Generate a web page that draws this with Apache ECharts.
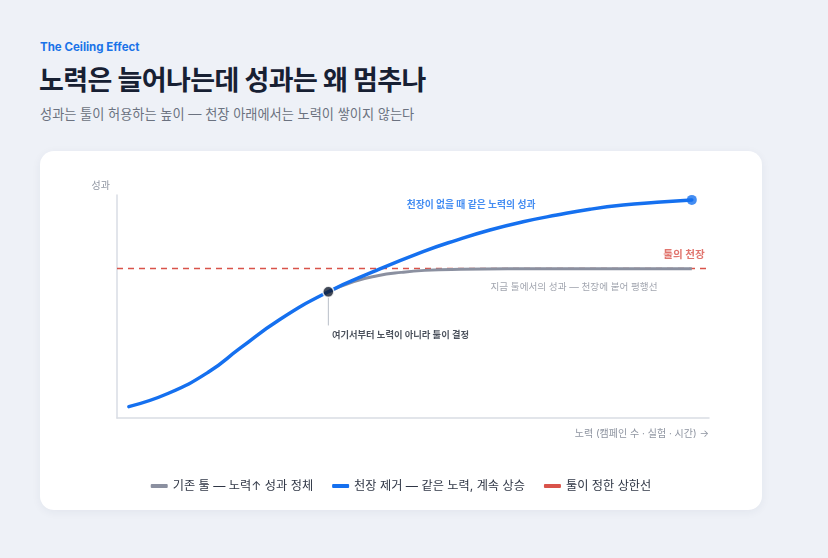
<!DOCTYPE html>
<html>
<head>
<meta charset="utf-8">
<script src="https://cdn.jsdelivr.net/npm/echarts@6/dist/echarts.min.js"></script>
<style>
  html, body { margin: 0; padding: 0; }
  body {
    width: 828px; height: 558px; overflow: hidden; position: relative;
    background: #eef1f7;
    font-family: Inter, "Noto Sans CJK KR", "Noto Sans", sans-serif;
  }
  .kicker { position: absolute; left: 40px; top: 40px; font-size: 11.5px; font-weight: 700; color: #1a73e8; }
  .title { position: absolute; left: 39px; top: 59px; font-size: 27px; font-weight: 700; color: #172033; letter-spacing: -0.6px; }
  .sub { position: absolute; left: 40px; top: 104px; font-size: 13.2px; color: #6b7280; }
  .card {
    position: absolute; left: 40px; top: 151px; width: 722px; height: 359px;
    background: #fff; border-radius: 14px;
    box-shadow: 0 2px 10px rgba(30, 45, 80, 0.06);
  }
  #chart { width: 722px; height: 359px; }
</style>
</head>
<body>
<div class="kicker">The Ceiling Effect</div>
<div class="title">노력은 늘어나는데 성과는 왜 멈추나</div>
<div class="sub">성과는 툴이 허용하는 높이 — 천장 아래에서는 노력이 쌓이지 않는다</div>
<div class="card"><div id="chart"></div></div>
<script>
// 노력(x) / 성과(y) — 0~100 스케일
var effortBlue = [2, 8.7, 15.4, 20.8, 27.5, 35.7, 43.3, 51.7, 57.4, 63, 68.6, 74.3, 79.9, 85.5, 91.2, 97.1];
var resultBlue = [5.1, 11.1, 20.5, 31.3, 44.2, 56.6, 65.6, 74.6, 79.8, 84.3, 88, 91, 93.6, 95.5, 96.7, 97.8];

var effortGrey = [35.7, 40, 44, 48, 52, 58, 66, 80, 97.1];
var resultGrey = [56.6, 61.2, 63.8, 65.3, 66.2, 66.7, 66.9, 66.9, 66.9];

var ceiling = 67;
var kneePoint = [35.7, 56.6];
var kneeStemEnd = 41.5;

var seriesNames = ['기존 툴 — 노력↑ 성과 정체', '천장 제거 — 같은 노력, 계속 상승', '툴이 정한 상한선'];
var notes = {
  blue: { at: [59.8, 95.4], text: '천장이 없을 때 같은 노력의 성과' },
  grey: { at: [91.3, 58.6], text: '지금 툴에서의 성과 — 천장에 붙어 평행선' },
  ceil: { at: [99.3, 73], text: '툴의 천장' },
  knee: { at: [36.3, 37.3], text: '여기서부터 노력이 아니라 툴이 결정' }
};

var BLUE = '#1570ef', GREY = '#8b90a0', RED = '#d9534a';

function zip(xs, ys) {
  return xs.map(function(x, i) { return [x, ys[i]]; });
}

// 투명한 점에 글자만 붙이는 주석 시리즈
function noteSeries(n, color, weight, size, align) {
  return {
    type: 'scatter', z: 6, silent: true,
    data: [n.at], symbolSize: 1,
    itemStyle: { color: 'rgba(0,0,0,0)' },
    label: {
      show: true, position: 'inside', formatter: n.text,
      color: color, fontWeight: weight, fontSize: size, align: align,
      fontFamily: 'Inter, "Noto Sans CJK KR"'
    }
  };
}

var chart = echarts.init(document.getElementById('chart'));

chart.setOption({
  animation: false,
  textStyle: { fontFamily: 'Inter, "Noto Sans CJK KR"' },
  grid: { left: 77, right: 53, top: 44, bottom: 92 },
  legend: {
    data: seriesNames,
    top: 324, left: 'center',
    icon: 'roundRect', itemWidth: 17, itemHeight: 4, itemGap: 19,
    textStyle: { fontSize: 12.2, color: '#2f3645' }
  },
  xAxis: {
    type: 'value', min: 0, max: 100,
    name: '노력 (캠페인 수 · 실험 · 시간) →',
    nameLocation: 'end', nameGap: 0,
    nameTextStyle: { align: 'right', verticalAlign: 'top', padding: [11, 0, 0, 0], fontSize: 10, color: '#8f95a1' },
    axisLine: { lineStyle: { color: '#d9dde4', width: 1.5 } },
    axisTick: { show: false }, axisLabel: { show: false }, splitLine: { show: false }
  },
  yAxis: {
    type: 'value', min: 0, max: 100,
    name: '성과', nameLocation: 'end', nameGap: 4,
    nameTextStyle: { align: 'right', padding: [0, 7, 0, 0], fontSize: 10, color: '#8f95a1' },
    axisLine: { show: true, lineStyle: { color: '#d9dde4', width: 1.5 } },
    axisTick: { show: false }, axisLabel: { show: false }, splitLine: { show: false }
  },
  series: [
    {
      name: seriesNames[2], type: 'line', z: 1,
      data: [[0, ceiling], [100, ceiling]],
      symbol: 'none', itemStyle: { color: RED },
      lineStyle: { color: RED, width: 1.5, type: [6, 5] }
    },
    {
      name: seriesNames[0], type: 'line', z: 2,
      data: zip(effortGrey, resultGrey),
      smooth: 0.5, symbol: 'none', itemStyle: { color: GREY },
      lineStyle: { color: GREY, width: 3 }
    },
    {
      name: seriesNames[1], type: 'line', z: 3,
      data: zip(effortBlue, resultBlue),
      smooth: 0.5, symbol: 'none', itemStyle: { color: BLUE },
      lineStyle: { color: BLUE, width: 3.5, cap: 'round' }
    },
    {
      type: 'line', z: 2, silent: true,
      data: [[kneePoint[0], kneePoint[1] - 2], [kneePoint[0], kneeStemEnd]],
      symbol: 'none', lineStyle: { color: '#b9bec8', width: 1 }
    },
    {
      type: 'scatter', z: 5, silent: true,
      data: [kneePoint],
      symbolSize: 11,
      itemStyle: { color: '#111a2c', borderColor: '#fff', borderWidth: 1.5 }
    },
    {
      type: 'scatter', z: 5, silent: true,
      data: [[effortBlue[effortBlue.length - 1], resultBlue[resultBlue.length - 1]]],
      symbolSize: 10,
      itemStyle: { color: BLUE }
    },
    noteSeries(notes.blue, BLUE, 700, 9.8, 'center'),
    noteSeries(notes.grey, '#8a8f9b', 400, 9.6, 'right'),
    noteSeries(notes.ceil, RED, 700, 10.6, 'right'),
    noteSeries(notes.knee, '#1e2533', 700, 9.3, 'left')
  ]
});
</script>
</body>
</html>
